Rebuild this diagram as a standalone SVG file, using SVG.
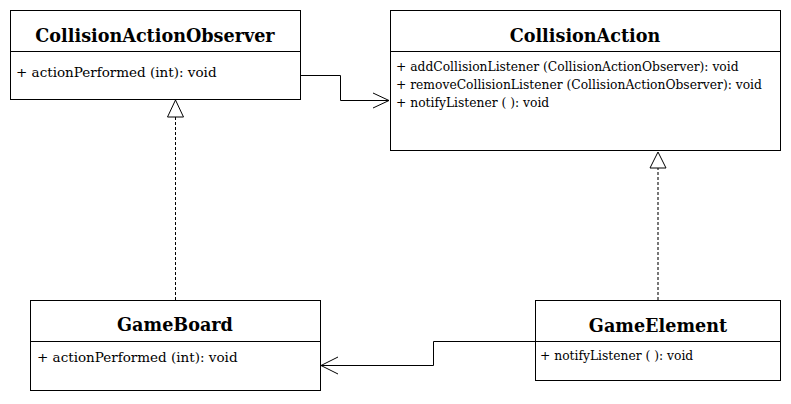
<svg xmlns="http://www.w3.org/2000/svg" width="791" height="404" viewBox="0 0 791 404">
<style>
.box{fill:#fff;stroke:#000;stroke-width:1}
.div{stroke:#000;stroke-width:1}
text{font-family:'DejaVu Serif','Liberation Serif',serif;fill:#000}
.title{font-weight:bold;font-size:17.6px;text-anchor:middle}
.m{font-size:13.5px}
.ms{font-size:12.3px}
.c{fill:none;stroke:#000;stroke-width:1}
.dash{fill:none;stroke:#000;stroke-width:1;stroke-dasharray:3,2}
.dashg{fill:none;stroke:#777;stroke-width:2;stroke-dasharray:3,2}
.tri{fill:#fff;stroke:#000;stroke-width:1}
</style>
<rect width="791" height="404" fill="#fff"/>
<g id="connectors">
<polyline class="c" points="300.5,75.5 340.5,75.5 340.5,100.5 389,100.5"/>
<polyline class="c" points="373,93 389,100.5 373,108"/>
<polyline class="c" points="535,341.5 433.5,341.5 433.5,365.5 321,365.5"/>
<polyline class="c" points="338,357 321,365.5 338,374"/>
<line class="dash" x1="175.5" y1="300" x2="175.5" y2="117"/>
<polygon class="tri" points="175.5,100 167.5,117 183.5,117"/>
<line class="dashg" x1="658" y1="300" x2="658" y2="168"/>
<polygon class="tri" points="658,152 650,168 666,168"/>
</g>
<g id="CollisionActionObserver">
<rect class="box" x="10.5" y="10.5" width="290" height="89"/>
<line class="div" x1="10.5" y1="51.5" x2="300.5" y2="51.5"/>
<text class="title" x="155" y="42">CollisionActionObserver</text>
<text class="m" x="16" y="77">+ actionPerformed (int): void</text>
</g>
<g id="CollisionAction">
<rect class="box" x="390.5" y="10.5" width="390" height="140"/>
<line class="div" x1="390.5" y1="51.5" x2="780.5" y2="51.5"/>
<text class="title" x="585" y="42">CollisionAction</text>
<text class="ms" x="396" y="71">+ addCollisionListener (CollisionActionObserver): void</text>
<text class="ms" x="396" y="89">+ removeCollisionListener (CollisionActionObserver): void</text>
<text class="ms" x="396" y="107">+ notifyListener ( ): void</text>
</g>
<g id="GameBoard">
<rect class="box" x="30.5" y="300.5" width="290" height="90"/>
<line class="div" x1="30.5" y1="341.5" x2="320.5" y2="341.5"/>
<text class="title" x="175" y="331">GameBoard</text>
<text class="m" x="37" y="362">+ actionPerformed (int): void</text>
</g>
<g id="GameElement">
<rect class="box" x="535.5" y="300.5" width="245" height="80"/>
<line class="div" x1="535.5" y1="341.5" x2="780.5" y2="341.5"/>
<text class="title" x="658" y="332">GameElement</text>
<text class="ms" x="540" y="360">+ notifyListener ( ): void</text>
</g>
</svg>
